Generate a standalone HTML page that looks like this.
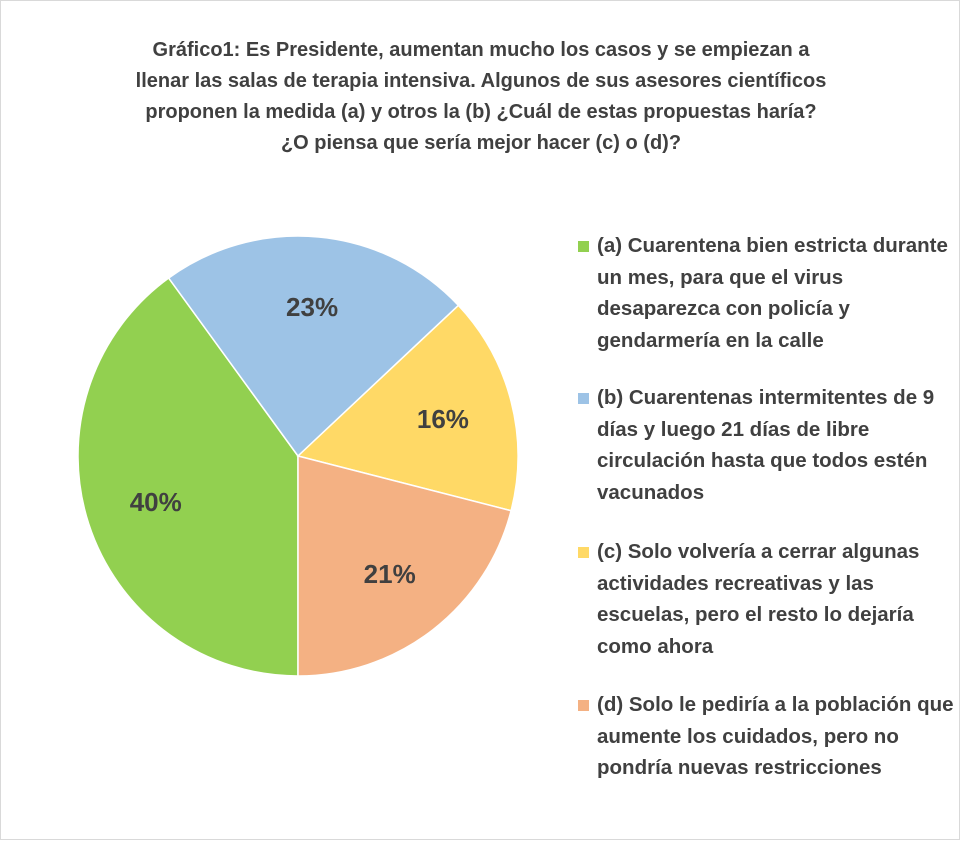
<!DOCTYPE html>
<html><head><meta charset="utf-8"><style>
body{margin:0;background:#fff;font-family:"Liberation Sans",sans-serif;}
#wrap{position:relative;width:958px;height:838px;border:1px solid #d9d9d9;}
.title{position:absolute;left:0;width:960px;top:34px;text-align:center;font-weight:bold;font-size:20px;line-height:31px;color:#404040;}
.leg{position:absolute;left:577px;width:380px;font-weight:bold;font-size:20.5px;line-height:31.5px;color:#404040;}
.sw{position:absolute;left:0;top:11px;width:11px;height:11px;}
.lt{margin-left:19px;}
</style></head><body>
<div id="wrap">
<div class="title">Gráfico1: Es Presidente, aumentan mucho los casos y se empiezan a<br>llenar las salas de terapia intensiva. Algunos de sus asesores científicos<br>proponen la medida (a) y otros la (b) ¿Cuál de estas propuestas haría?<br>¿O piensa que sería mejor hacer (c) o (d)?</div>
<svg id="pie" width="960" height="840" style="position:absolute;left:0;top:0"></svg>
<div class="leg" style="top:229px"><div class="sw" style="background:#92d050"></div><div class="lt">(a) Cuarentena bien estricta durante un mes, para que el virus desaparezca con policía y gendarmería en la calle</div></div>
<div class="leg" style="top:381px"><div class="sw" style="background:#9dc3e6"></div><div class="lt">(b) Cuarentenas intermitentes de 9 días y luego 21 días de libre circulación hasta que todos estén vacunados</div></div>
<div class="leg" style="top:535px"><div class="sw" style="background:#ffd966"></div><div class="lt">(c) Solo volvería a cerrar algunas actividades recreativas y las escuelas, pero el resto lo dejaría como ahora</div></div>
<div class="leg" style="top:688px"><div class="sw" style="background:#f4b183"></div><div class="lt">(d) Solo le pediría a la población que aumente los cuidados, pero no pondría nuevas restricciones</div></div>
</div>
<script>
const categories=["a","b","c","d"];
const values=[40,23,16,21];
const labels=["40%","23%","16%","21%"];
const colors=["#92d050","#9dc3e6","#ffd966","#f4b183"];
const svg=document.getElementById('pie');
const cx=297,cy=455,R=220,start=180;
const total=values.reduce((a,b)=>a+b,0);
function pt(deg,r){const a=deg*Math.PI/180;return [cx+r*Math.sin(a),cy-r*Math.cos(a)];}
let ang=start;
values.forEach((v,i)=>{
  const sweep=v/total*360;
  const p1=pt(ang,R),p2=pt(ang+sweep,R);
  const path=document.createElementNS('http://www.w3.org/2000/svg','path');
  path.setAttribute('d',`M${cx},${cy}L${p1[0]},${p1[1]}A${R},${R} 0 ${sweep>180?1:0} 1 ${p2[0]},${p2[1]}Z`);
  path.setAttribute('fill',colors[i]);path.setAttribute('stroke','#fff');path.setAttribute('stroke-width','1.5');
  
  
  svg.appendChild(path);
  const lp=pt(ang+sweep/2,R*0.68);
  const t=document.createElementNS('http://www.w3.org/2000/svg','text');
  t.setAttribute('x',lp[0]);t.setAttribute('y',lp[1]+9);t.setAttribute('text-anchor','middle');
  t.setAttribute('font-family','Liberation Sans, sans-serif');t.setAttribute('font-weight','bold');t.setAttribute('font-size','26');t.setAttribute('fill','#404040');
  t.textContent=labels[i];
  
  
  svg.appendChild(t);
  ang+=sweep;
});
</script>
</body></html>
